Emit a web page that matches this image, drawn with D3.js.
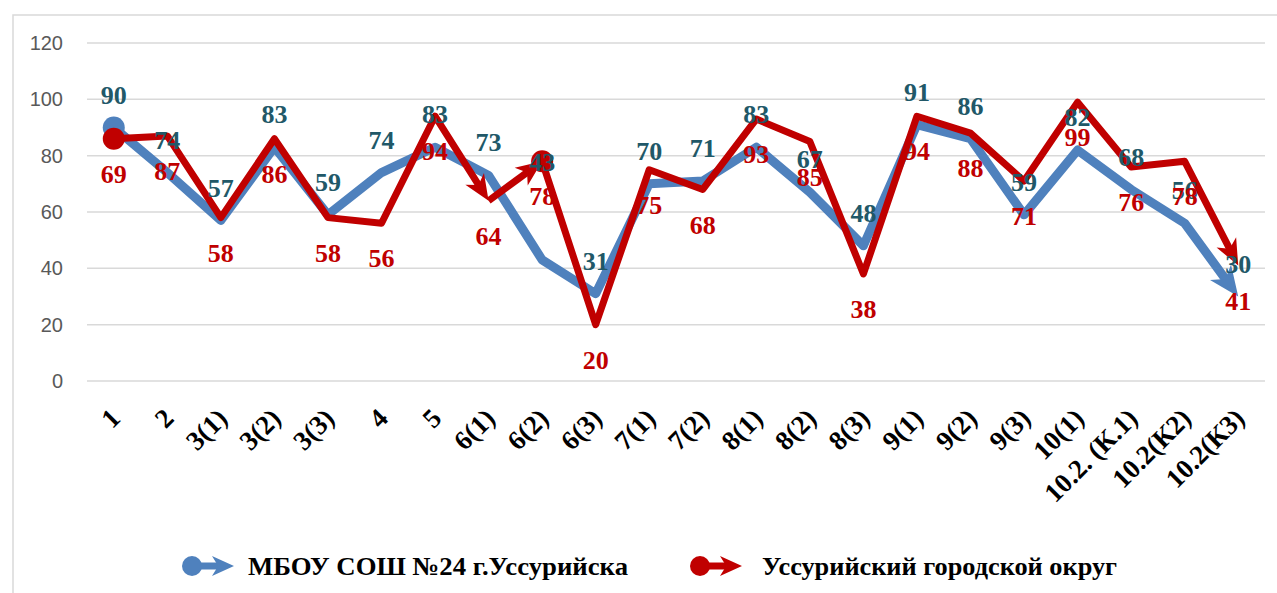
<!DOCTYPE html>
<html>
<head>
<meta charset="utf-8">
<script src="https://cdn.jsdelivr.net/npm/d3@7"></script>
<style>
  body { margin: 0; background: #fff; }
  svg { display: block; }
</style>
</head>
<body>
<svg id="chart" width="1277" height="593"></svg>
<script>
// categories on the x axis
let categories = ["1", "2", "3(1)", "3(2)", "3(3)", "4", "5", "6(1)", "6(2)", "6(3)", "7(1)", "7(2)",
    "8(1)", "8(2)", "8(3)", "9(1)", "9(2)", "9(3)", "10(1)", "10.2. (К.1)", "10.2(К2)", "10.2(К3)"];

// МБОУ СОШ №24 (blue)
let schoolValues = [90, 74, 57, 83, 59, 74, 83, 73, 43, 31, 70, 71, 83, 67, 48, 91, 86, 59, 82, 68, 56, 30];
let schoolLabels = ["90", "74", "57", "83", "59", "74", "83", "73", "43", "31", "70", "71", "83", "67", "48", "91", "86", "59", "82", "68", "56", "30"];

// Уссурийский городской округ (red)
let districtValues = [86, 87, 58, 86, 58, 56, 94, 64, 78, 20, 75, 68, 93, 85, 38, 94, 88, 71, 99, 76, 78, 41];
let districtLabels = ["69", "87", "58", "86", "58", "56", "94", "64", "78", "20", "75", "68", "93", "85", "38", "94", "88", "71", "99", "76", "78", "41"];
// the red line is drawn in pieces: [from, to] indexes
let districtPieces = [[0, 7], [7, 8], [8, 21]];

let yTicks = [0, 20, 40, 60, 80, 100, 120];

let legendNames = ["МБОУ  СОШ  №24  г.Уссурийска", "Уссурийский   городской   округ"];

let svg = d3.select("#chart");

let blue = "#4f81bd", red = "#c00000";
let blueText = "#215868";

// chart border (runs off the right/bottom of the picture)
svg.append("rect")
    .attr("x", 13).attr("y", 15)
    .attr("width", 1300).attr("height", 600)
    .attr("fill", "none")
    .attr("stroke", "#d9d9d9")
    .attr("stroke-width", 1.5);

let xScale = d3.scaleBand().domain(categories).range([87, 1265]);
let yScale = d3.scaleLinear().domain([0, 120]).range([381, 43]);
let cx = d => xScale(d) + xScale.bandwidth() / 2;

// gridlines
svg.append("g").selectAll("line")
    .data(yTicks).enter().append("line")
    .attr("x1", 87).attr("x2", 1265)
    .attr("y1", d => yScale(d)).attr("y2", d => yScale(d))
    .attr("stroke", "#d9d9d9")
    .attr("stroke-width", 1.5);

// y axis (labels only)
let yAxis = svg.append("g")
    .attr("transform", "translate(63,0)")
    .call(d3.axisLeft(yScale).tickValues(yTicks).tickSize(0).tickPadding(0));
yAxis.select(".domain").remove();
yAxis.selectAll("text")
    .attr("font-family", "'Liberation Sans', Arial, sans-serif")
    .attr("font-size", 20)
    .attr("fill", "#595959");

// x axis labels, rotated
let xAxis = svg.append("g")
    .attr("transform", "translate(0,381)")
    .call(d3.axisBottom(xScale).tickSize(0));
xAxis.select(".domain").remove();
xAxis.selectAll("text")
    .attr("font-family", "'Liberation Serif', 'Times New Roman', serif")
    .attr("font-weight", "bold")
    .attr("font-size", 27)
    .attr("fill", "#000")
    .attr("text-anchor", "end")
    .attr("dy", 0)
    .attr("y", 0)
    .attr("transform", "translate(8,39) rotate(-45)");

// draws a polyline with an arrow at its end
function arrowLine(g, pts, color, width, aLen, aWid) {
    let n = pts.length;
    let tip = pts[n - 1], prev = pts[n - 2];
    let dx = tip[0] - prev[0], dy = tip[1] - prev[1];
    let len = Math.sqrt(dx * dx + dy * dy);
    let ux = dx / len, uy = dy / len;
    let body = pts.slice(0, n - 1);
    body.push([tip[0] - ux * aLen * 0.7, tip[1] - uy * aLen * 0.7]);

    g.append("path")
        .attr("d", d3.line()(body))
        .attr("fill", "none")
        .attr("stroke", color)
        .attr("stroke-width", width)
        .attr("stroke-linejoin", "round");

    let ang = Math.atan2(dy, dx) * 180 / Math.PI;
    g.append("path")
        .attr("d", "M0,0 L" + (-aLen) + "," + (-aWid / 2) + " L" + (-aLen * 0.72) + ",0 L" + (-aLen) + "," + (aWid / 2) + " Z")
        .attr("fill", color)
        .attr("transform", "translate(" + tip[0] + "," + tip[1] + ") rotate(" + ang + ")");
}

// blue series
let gBlue = svg.append("g");
let bluePts = categories.map((c, i) => [cx(c), yScale(schoolValues[i])]);
arrowLine(gBlue, bluePts, blue, 9, 30, 26);
gBlue.append("circle")
    .attr("cx", bluePts[0][0]).attr("cy", bluePts[0][1])
    .attr("r", 11).attr("fill", blue);

// red series
let gRed = svg.append("g");
let redPts = categories.map((c, i) => [cx(c), yScale(districtValues[i])]);
districtPieces.forEach(function (p) {
    arrowLine(gRed, redPts.slice(p[0], p[1] + 1), red, 7, 26, 22);
});
[0, 8].forEach(function (i) {
    gRed.append("circle")
        .attr("cx", redPts[i][0]).attr("cy", redPts[i][1])
        .attr("r", 11).attr("fill", red);
});

// data labels
let labelFont = "'Liberation Serif', 'Times New Roman', serif";
let blueNudge = { 8: -65 };

svg.append("g").selectAll("text")
    .data(schoolLabels).enter().append("text")
    .attr("x", (d, i) => cx(categories[i]))
    .attr("y", (d, i) => yScale(schoolValues[i]) - 33 + (blueNudge[i] || 0))
    .attr("dy", "0.35em")
    .attr("text-anchor", "middle")
    .attr("font-family", labelFont)
    .attr("font-weight", "bold")
    .attr("font-size", 26)
    .attr("fill", blueText)
    .text(d => d);

svg.append("g").selectAll("text")
    .data(districtLabels).enter().append("text")
    .attr("x", (d, i) => cx(categories[i]))
    .attr("y", (d, i) => yScale(districtValues[i]) + 35)
    .attr("dy", "0.35em")
    .attr("text-anchor", "middle")
    .attr("font-family", labelFont)
    .attr("font-weight", "bold")
    .attr("font-size", 26)
    .attr("fill", red)
    .text(d => d);

// legend
let legendItems = [
    { name: legendNames[0], color: blue, x: 182, textX: 248, textW: 380 },
    { name: legendNames[1], color: red, x: 690, textX: 762, textW: 355 }
];
let legendY = 566;
legendItems.forEach(function (it) {
    let g = svg.append("g");
    arrowLine(g, [[it.x + 10, legendY], [it.x + 52, legendY]], it.color, 7, 22, 20);
    g.append("circle")
        .attr("cx", it.x + 10).attr("cy", legendY)
        .attr("r", 10).attr("fill", it.color);
    g.append("text")
        .attr("x", it.textX).attr("y", legendY)
        .attr("dy", "0.35em")
        .attr("font-family", labelFont)
        .attr("font-weight", "bold")
        .attr("font-size", 26)
        .attr("fill", "#000")
        .attr("textLength", it.textW)
        .attr("lengthAdjust", "spacingAndGlyphs")
        .text(it.name);
});
</script>
</body>
</html>
